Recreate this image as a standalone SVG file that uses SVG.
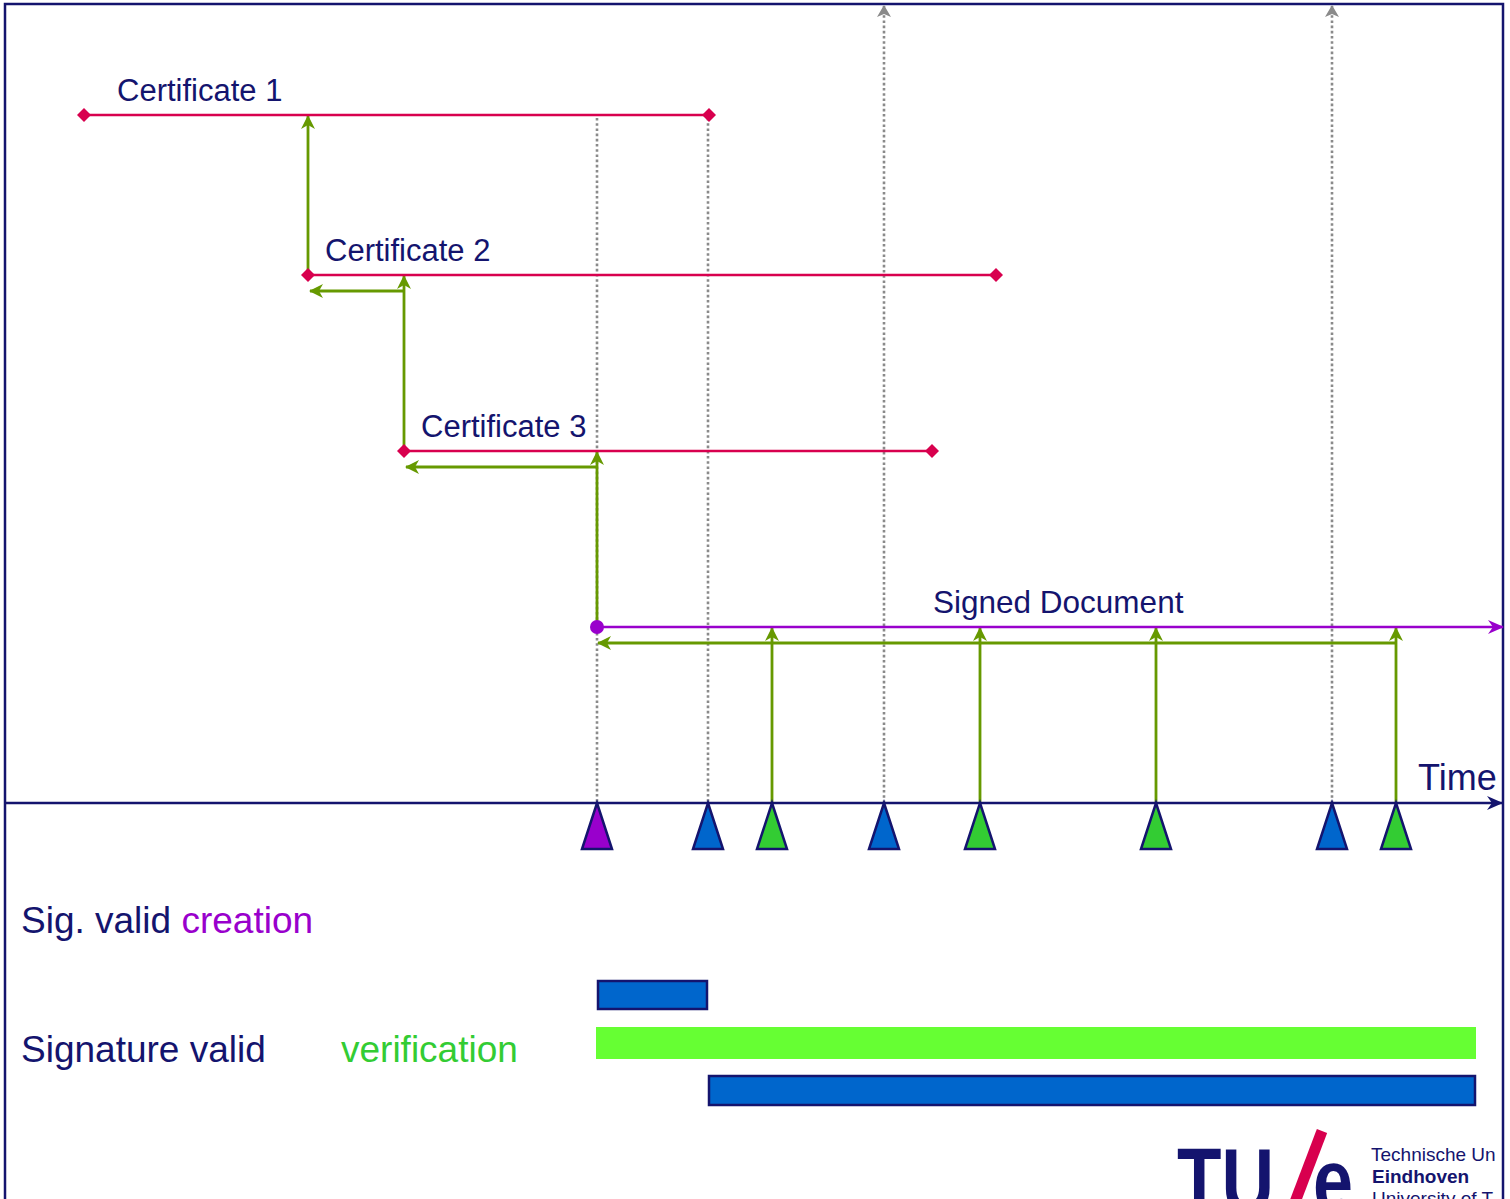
<svg xmlns="http://www.w3.org/2000/svg" width="1510" height="1199" viewBox="0 0 1510 1199">
<style>
  .lbl { font-family: "Liberation Sans", Arial, sans-serif; fill: #14146e; }
  .cert { stroke: #d8004e; stroke-width: 2.6; fill: none; }
  .grn { stroke: #669900; stroke-width: 2.8; fill: none; }
  .dot { stroke: #8a8a8a; stroke-width: 2.6; stroke-dasharray: 2.6 2.6; fill: none; }
  .tri { stroke: #14146e; stroke-width: 2.5; stroke-linejoin: miter; }
  .blue { fill: #0066cc; }
  .green { fill: #33cc33; }
  .purp { fill: #9900cc; }
  .logo { font-family: "Liberation Sans", Arial, sans-serif; fill: #14146e; }
</style>
<defs>
  <marker id="ag" viewBox="0 0 14 14" refX="13" refY="7" markerWidth="14" markerHeight="14" markerUnits="userSpaceOnUse" orient="auto">
    <path d="M0,0 L14,7 L0,14 L4,7 z" fill="#669900"/>
  </marker>
  <marker id="ap" viewBox="0 0 16 14" refX="15" refY="7" markerWidth="16" markerHeight="14" markerUnits="userSpaceOnUse" orient="auto">
    <path d="M0,0 L16,7 L0,14 L5,7 z" fill="#9900cc"/>
  </marker>
  <marker id="an" viewBox="0 0 16 14" refX="15" refY="7" markerWidth="16" markerHeight="14" markerUnits="userSpaceOnUse" orient="auto">
    <path d="M0,0 L16,7 L0,14 L5,7 z" fill="#14146e"/>
  </marker>
  <marker id="ay" viewBox="0 0 12 14" refX="11" refY="7" markerWidth="12" markerHeight="14" markerUnits="userSpaceOnUse" orient="auto">
    <path d="M0,0 L12,7 L0,14 L3,7 z" fill="#8a8a8a"/>
  </marker>
  <path id="dia" d="M-7,0 L0,-7 L7,0 L0,7 z" fill="#d8004e"/>
  <path id="tri" d="M0,0 L15,46 L-15,46 z"/>
</defs>

<!-- frame -->
<rect id="frame" x="5" y="4" width="1498" height="1220" fill="none" stroke="#14146e" stroke-width="2.5"/>

<g id="connectors">
  <!-- dotted guide lines -->
  <line class="dot" x1="597" y1="118" x2="597" y2="803"/>
  <line class="dot" x1="708" y1="118" x2="708" y2="803"/>
  <line class="dot" x1="884" y1="803" x2="884" y2="6" marker-end="url(#ay)"/>
  <line class="dot" x1="1332" y1="803" x2="1332" y2="6" marker-end="url(#ay)"/>

  <!-- green verification arrows -->
  <line class="grn" x1="308" y1="275" x2="308" y2="116" marker-end="url(#ag)"/>
  <line class="grn" x1="404" y1="291" x2="310" y2="291" marker-end="url(#ag)"/>
  <line class="grn" x1="404" y1="451" x2="404" y2="276" marker-end="url(#ag)"/>
  <line class="grn" x1="597" y1="467" x2="406" y2="467" marker-end="url(#ag)"/>
  <line class="grn" x1="597" y1="627" x2="597" y2="452" marker-end="url(#ag)"/>
  <line class="grn" x1="1396" y1="643" x2="598" y2="643" marker-end="url(#ag)"/>
  <line class="grn" x1="772" y1="803" x2="772" y2="628" marker-end="url(#ag)"/>
  <line class="grn" x1="980" y1="803" x2="980" y2="628" marker-end="url(#ag)"/>
  <line class="grn" x1="1156" y1="803" x2="1156" y2="628" marker-end="url(#ag)"/>
  <line class="grn" x1="1396" y1="803" x2="1396" y2="628" marker-end="url(#ag)"/>
</g>

<g id="cert1">
  <line class="cert" x1="84" y1="115" x2="709" y2="115"/>
  <use href="#dia" x="84" y="115"/>
  <use href="#dia" x="709" y="115"/>
  <text class="lbl" x="117" y="101" font-size="31">Certificate 1</text>
</g>
<g id="cert2">
  <line class="cert" x1="308" y1="275" x2="996" y2="275"/>
  <use href="#dia" x="308" y="275"/>
  <use href="#dia" x="996" y="275"/>
  <text class="lbl" x="325" y="261" font-size="31">Certificate 2</text>
</g>
<g id="cert3">
  <line class="cert" x1="404" y1="451" x2="932" y2="451"/>
  <use href="#dia" x="404" y="451"/>
  <use href="#dia" x="932" y="451"/>
  <text class="lbl" x="421" y="437" font-size="31">Certificate 3</text>
</g>

<g id="signed-document">
  <line x1="597" y1="627" x2="1503" y2="627" stroke="#9900cc" stroke-width="2.6" marker-end="url(#ap)"/>
  <circle cx="597" cy="627" r="7" fill="#9900cc"/>
  <text class="lbl" x="933" y="613" font-size="31.5">Signed Document</text>
</g>

<g id="time-axis">
  <line x1="5" y1="803" x2="1502" y2="803" stroke="#14146e" stroke-width="2.6" marker-end="url(#an)"/>
  <text class="lbl" x="1418" y="790" font-size="36">Time</text>
</g>

<g id="events">
  <use href="#tri" class="tri purp" x="597" y="803"/>
  <use href="#tri" class="tri blue" x="708" y="803"/>
  <use href="#tri" class="tri green" x="772" y="803"/>
  <use href="#tri" class="tri blue" x="884" y="803"/>
  <use href="#tri" class="tri green" x="980" y="803"/>
  <use href="#tri" class="tri green" x="1156" y="803"/>
  <use href="#tri" class="tri blue" x="1332" y="803"/>
  <use href="#tri" class="tri green" x="1396" y="803"/>
</g>

<g id="legend">
  <text class="lbl" x="21" y="933" font-size="37">Sig. valid <tspan fill="#9900cc">creation</tspan></text>
  <text class="lbl" x="21" y="1062" font-size="37">Signature valid</text>
  <text x="341" y="1062" font-size="37" font-family="Liberation Sans, Arial, sans-serif" fill="#33cc33">verification</text>
</g>

<g id="bars">
  <rect x="598" y="981" width="109" height="28" fill="#0066cc" stroke="#14146e" stroke-width="2.5"/>
  <rect x="596" y="1027" width="880" height="32" fill="#66ff33"/>
  <rect x="709" y="1076" width="766" height="29" fill="#0066cc" stroke="#14146e" stroke-width="2.5"/>
</g>

<g id="logo">
  <text class="logo" x="1177" y="1212" font-size="90" font-weight="bold" textLength="97" lengthAdjust="spacingAndGlyphs">TU</text>
  <line x1="1322" y1="1131" x2="1292" y2="1210" stroke="#d8004e" stroke-width="11"/>
  <text class="logo" x="1313" y="1212" font-size="90" font-weight="bold" textLength="40" lengthAdjust="spacingAndGlyphs">e</text>
  <text class="logo" x="1371" y="1161" font-size="19">Technische Un</text>
  <text class="logo" x="1372" y="1183" font-size="19" font-weight="bold">Eindhoven</text>
  <text class="logo" x="1372" y="1205" font-size="19">University of T</text>
</g>
</svg>
